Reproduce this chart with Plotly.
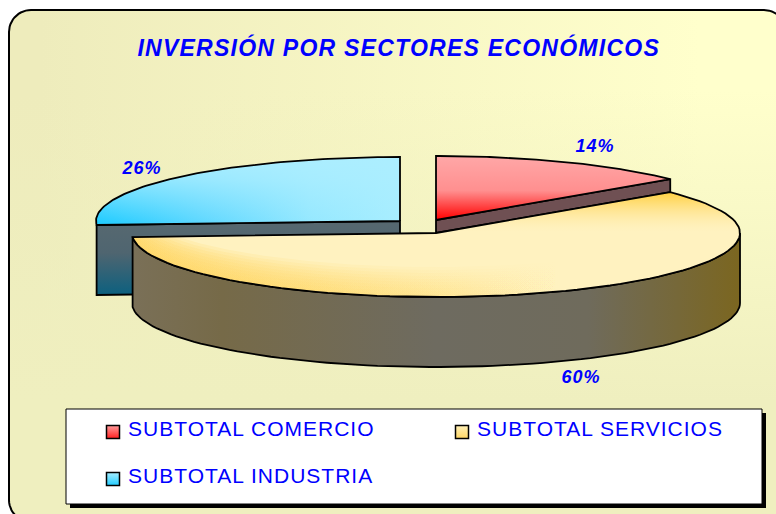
import numpy as np
import plotly.graph_objects as go

categories = ["SUBTOTAL COMERCIO", "SUBTOTAL SERVICIOS", "SUBTOTAL INDUSTRIA"]
values = [14, 60, 26]
title_text = "INVERSIÓN POR SECTORES ECONÓMICOS"

W, H = 776, 514
RX, RY, DEPTH = 304, 64, 70
BLUE = "#0000ff"
FONT = "Liberation Sans, Arial, sans-serif"

fracs = np.cumsum([0] + values) / sum(values) * 2 * np.pi
centers = [(436, 220), (436, 233), (400, 221)]


def arc(c, a0, a1, n=90, dy=0):
    t = np.linspace(a0, a1, n)
    return c[0] + RX * np.sin(t), c[1] - RY * np.cos(t) + dy


def wedge(c, a0, a1):
    x, y = arc(c, a0, a1)
    return np.r_[c[0], x, c[0]], np.r_[c[1], y, c[1]]


def rounded(x0, y0, x1, y1, r):
    xs, ys = [], []
    for cx, cy, s in [(x0 + r, y0 + r, np.pi), (x1 - r, y0 + r, 1.5 * np.pi),
                      (x1 - r, y1 - r, 0), (x0 + r, y1 - r, .5 * np.pi)]:
        t = np.linspace(s, s + np.pi / 2, 14)
        xs += list(cx + r * np.cos(t))
        ys += list(cy + r * np.sin(t))
    return xs + xs[:1], ys + ys[:1]


def poly(x, y, grad=None, color=None, lw=1.8, lc="black"):
    kw = dict(x=list(x), y=list(y), mode="lines", fill="toself", hoverinfo="skip",
              showlegend=False, line=dict(color=lc, width=lw))
    if grad:
        kw["fillgradient"] = grad
    if color:
        kw["fillcolor"] = color
    if lw == 0:
        kw["line"] = dict(color="rgba(0,0,0,0)", width=0)
    return go.Scatter(**kw)


def lin(kind, a, b, stops):
    return dict(type=kind, start=a, stop=b, colorscale=stops)


fig = go.Figure()

# background panel
bx, by = rounded(9, 10, 786, 522, 22)
fig.add_trace(poly(bx, by, lin("horizontal", 40, 700, [[0, "#eeecbc"], [1, "#ffffcc"]]), lw=0))
fig.add_trace(poly(bx, by, lin("vertical", 90, 400, [[0, "rgba(239,239,191,0)"], [1, "rgba(239,239,191,1)"]]), lw=2))

# industria
a0, a1 = fracs[2], fracs[3]
ci = centers[2]
xe, ye = arc(ci, a0, a0, 1)
sx = [xe[0], ci[0], ci[0], xe[0], xe[0]]
sy = [ye[0], ci[1], ci[1] + DEPTH, ye[0] + DEPTH, ye[0]]
fig.add_trace(poly(sx, sy, lin("vertical", 225, 295, [[0, "#566870"], [.4, "#4f6570"], [1, "#0c607f"]])))
wx, wy = wedge(ci, a0, a1)
fig.add_trace(poly(wx, wy, lin("horizontal", 97, 400, [[0, "#22ccff"], [.35, "#60d8ff"], [.7, "#95e8ff"], [1, "#a8eeff"]]), lw=0))
fig.add_trace(poly(wx, wy, lin("vertical", 157, 222, [[0, "rgba(172,238,255,1)"], [.35, "rgba(172,238,255,.75)"], [1, "rgba(172,238,255,0)"]])))

# comercio
a0, a1 = fracs[0], fracs[1]
cc, cs = centers[0], centers[1]
xe, ye = arc(cc, a1, a1, 1)
xs, ys = arc(cs, a1, a1, 1)
fig.add_trace(poly([cc[0], xe[0], xs[0], cs[0], cc[0]], [cc[1], ye[0], ys[0], cs[1], cc[1]], color="#6f5053"))
wx, wy = wedge(cc, a0, a1)
fig.add_trace(poly(wx, wy, lin("vertical", 155, 220, [[0, "#ffa8a8"], [.55, "#ff8f8f"], [1, "#ff0000"]])))

# servicios
a0, a1 = fracs[1], fracs[2]
ax, ay = arc(cs, np.pi / 2, a1)
sx = np.r_[ax, ax[::-1], ax[0]]
sy = np.r_[ay, ay[::-1] + DEPTH, ay[0]]
fig.add_trace(poly(sx, sy, lin("horizontal", 131, 740, [[0, "#7a7058"], [.15, "#766a48"], [.5, "#6e6b60"], [.75, "#6f6b5c"], [1, "#7b6620"]])))
wx, wy = wedge(cs, a0, a1)
fig.add_trace(poly(wx, wy, color="#fff2c0", lw=0))
# upper-right warm shading
fig.add_trace(poly(wx, wy, lin("vertical", 190, 232, [[0, "rgba(255,204,51,1)"], [.45, "rgba(255,222,120,.7)"], [1, "rgba(255,235,170,0)"]]), lw=0))
# lower-left warm shading, stacked bands that hug the rim
bx2, by2 = arc(cs, np.deg2rad(125), a1, n=140)
edge = np.interp(bx2, [bx2[-1], cs[0]], [by2[-1], cs[1]])
for d in [3, 6, 9, 12, 15, 18, 21, 24, 27, 30]:
    up = np.maximum(by2 - d, edge)
    fig.add_trace(poly(np.r_[bx2, bx2[::-1]], np.r_[by2, up[::-1]],
                       lin("horizontal", 150, 560, [[0, "rgba(255,214,100,.2)"], [1, "rgba(255,214,100,0)"]]), lw=0))
fig.add_trace(go.Scatter(x=list(wx), y=list(wy), mode="lines", hoverinfo="skip", showlegend=False,
                         line=dict(color="black", width=1.8)))

# percent labels
label_pos = [(595, 147), (581, 378), (142, 169)]
fig.add_trace(go.Scatter(
    x=[p[0] for p in label_pos], y=[p[1] for p in label_pos], mode="text",
    text=[f"{v}%" for v in values], hoverinfo="skip", showlegend=False,
    textfont=dict(family=FONT, size=18, color=BLUE, weight="bold", style="italic")))

# legend box
fig.add_trace(poly([70, 766, 766, 70, 70], [413, 413, 508, 508, 413], color="black", lw=0))
fig.add_trace(poly([66, 762, 762, 66, 66], [409, 409, 504, 504, 409], color="white", lw=1))
leg_pos = [(113, 432), (462, 432), (113, 479)]
leg_top = ["#ff9c9c", "#fff0b8", "#a8eeff"]
leg_bot = ["#ff2020", "#ffd766", "#22ccff"]
for name, p, t, b in zip(categories, leg_pos, leg_top, leg_bot):
    fig.add_trace(go.Scatter(
        x=[p[0]], y=[p[1]], mode="markers", hoverinfo="skip", showlegend=False,
        marker=dict(symbol="square", size=13, color=t,
                    gradient=dict(type="vertical", color=b),
                    line=dict(color="black", width=1.5))))
    fig.add_trace(go.Scatter(
        x=[p[0] + 15], y=[p[1] - 1], mode="text", text=[name], textposition="middle right",
        hoverinfo="skip", showlegend=False,
        textfont=dict(family=FONT, size=21, color=BLUE)))

fig.update_layout(
    width=W, height=H, margin=dict(l=0, r=0, t=0, b=0),
    paper_bgcolor="white", plot_bgcolor="rgba(0,0,0,0)", showlegend=False,
    xaxis=dict(range=[0, W], visible=False, fixedrange=True),
    yaxis=dict(range=[H, 0], visible=False, fixedrange=True),
    annotations=[dict(x=399, y=47, xref="x", yref="y", text=title_text, showarrow=False,
                      font=dict(family=FONT, size=23, color=BLUE, weight="bold", style="italic"))],
)
page_css = ("document.body.style.margin='0';"
            "var s=document.createElement('style');"
            "s.textContent='.annotation-text{letter-spacing:1.25px}.textpoint text{letter-spacing:1px}';"
            "document.head.appendChild(s);")
fig.write_html("out.html", post_script=page_css, config=dict(displayModeBar=False))
